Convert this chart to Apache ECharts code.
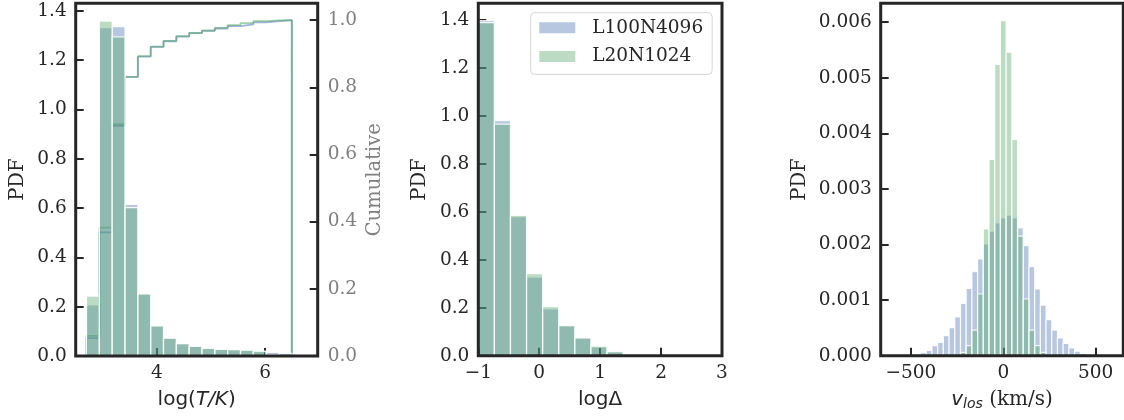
<!DOCTYPE html>
<html>
<head>
<meta charset="utf-8">
<script src="https://cdn.jsdelivr.net/npm/echarts@6/dist/echarts.min.js"></script>
<style>
  html, body { margin: 0; padding: 0; background: #ffffff; }
  #chart { width: 1124px; height: 420px; }
</style>
</head>
<body>
<div id="chart"></div>
<script>
// ---------- DATA ----------
const seriesNames = ['L100N4096', 'L20N1024'];

// Panel 1: log(T/K) histogram (PDF) + cumulative step
const tBinStart = 2.70;
const tBinWidth = 0.237;
const tPdfL100 = [0.207, 1.332, 1.336, 0.615, 0.252, 0.122, 0.072, 0.050, 0.039, 0.031, 0.027, 0.026, 0.023, 0.018, 0.015, 0.011];
const tPdfL20  = [0.243, 1.359, 1.295, 0.602, 0.252, 0.122, 0.072, 0.050, 0.039, 0.031, 0.027, 0.026, 0.024, 0.020, 0.004, 0.002];
const tCumL100 = [0.053, 0.368, 0.685, 0.831, 0.891, 0.920, 0.937, 0.951, 0.961, 0.968, 0.975, 0.982, 0.987, 0.993, 0.997, 1.000];
const tCumL20  = [0.060, 0.382, 0.690, 0.831, 0.893, 0.921, 0.938, 0.952, 0.962, 0.969, 0.977, 0.985, 0.991, 0.997, 0.999, 1.000];

// Panel 2: log Delta histogram
const dBinStart = -1.0;
const dBinWidth = 0.264;
const dPdfL100 = [1.398, 0.980, 0.580, 0.328, 0.195, 0.125, 0.074, 0.036, 0.017];
const dPdfL20  = [1.389, 0.966, 0.585, 0.342, 0.205, 0.125, 0.074, 0.040, 0.017];

// Panel 3: v_los histogram (bins centred on multiples of the bin width, -15..15)
const vBinStart = -479.0;
const vBinWidth = 30.9;
const vPdfL100 = [0.00003, 0.000054, 0.000096, 0.00018, 0.00024, 0.00036, 0.000505, 0.00070, 0.00094, 0.00121, 0.00151,
                  0.00174, 0.00201, 0.00224, 0.00239, 0.00248, 0.00253, 0.00248, 0.00230, 0.00198, 0.00160,
                  0.00120, 0.00091, 0.00065, 0.00046, 0.00032, 0.00022, 0.00014, 0.00008, 0.00004, 0.00001];
const vPdfL20  = [0, 0, 0, 0, 0, 0, 0, 0, 0.00006, 0.00018, 0.00046,
                  0.00111, 0.00228, 0.00353, 0.00524, 0.00603, 0.00546, 0.00389, 0.00215, 0.00102, 0.00046,
                  0.00018, 0.00006, 0.00001, 0, 0, 0, 0, 0, 0, 0];

// Tick values
const tXTicks = [4, 6];
const tYTicks = [0, 0.2, 0.4, 0.6, 0.8, 1.0, 1.2, 1.4];
const tCumTicks = [0, 0.2, 0.4, 0.6, 0.8, 1.0];
const dXTicks = [-1, 0, 1, 2, 3];
const dYTicks = [0, 0.2, 0.4, 0.6, 0.8, 1.0, 1.2, 1.4];
const vXTicks = [-500, 0, 500];
const vYTicks = [0, 0.001, 0.002, 0.003, 0.004, 0.005, 0.006];

// ---------- STYLE ----------
const INK = '#262626';
const GREY = '#808080';
const SERIF = 'DejaVu Serif';
const SANS = 'DejaVu Sans';
const BLUE = 'rgba(76,114,176,0.4)';
const GREEN = 'rgba(85,168,104,0.4)';
const BLUE_LINE = 'rgba(76,114,176,0.55)';
const GREEN_LINE = 'rgba(85,168,104,0.55)';

function binData(start, width, vals) {
  return vals.map((v, i) => [start + i * width, start + (i + 1) * width, v]);
}
function stepData(start, width, vals) {
  const pts = [[start, 0]];
  vals.forEach((v, i) => {
    pts.push([start + i * width, v]);
    pts.push([start + (i + 1) * width, v]);
  });
  pts.push([start + vals.length * width, 0]);
  return pts;
}
function minusFmt(v) { return v < 0 ? '\u2212' + Math.abs(v) : String(v); }

function barSeries(name, xi, yi, data, color) {
  return {
    type: 'custom', name: name, xAxisIndex: xi, yAxisIndex: yi,
    itemStyle: { color: color },
    encode: { x: [0, 1], y: 2 },
    data: data,
    z: 2,
    renderItem: function (params, api) {
      const a = api.coord([api.value(0), api.value(2)]);
      const b = api.coord([api.value(1), 0]);
      return {
        type: 'rect',
        shape: { x: a[0], y: a[1], width: b[0] - a[0], height: b[1] - a[1] },
        style: { fill: color, stroke: 'rgba(255,255,255,0.85)', lineWidth: 1.2 }
      };
    }
  };
}

function tickCfg(vals) {
  return { show: true, inside: true, length: 8, customValues: vals, lineStyle: { color: INK, width: 2 } };
}
function labelCfg(vals, fmt, margin, color) {
  return { show: true, customValues: vals, formatter: fmt, margin: margin,
           fontFamily: SERIF, fontSize: 18.5, color: color || INK };
}
const noLine = { show: false, onZero: false };

const gridBase = { show: true, borderColor: INK, borderWidth: 3, backgroundColor: 'transparent', z: 10 };

const chart = echarts.init(document.getElementById('chart'), null, { renderer: 'canvas' });
chart.setOption({
  animation: false,
  backgroundColor: '#ffffff',
  grid: [
    Object.assign({ left: 75.7, top: 3.3, width: 242, height: 352.7 }, gridBase),
    Object.assign({ left: 478.3, top: 3.3, width: 243.7, height: 352.4 }, gridBase),
    Object.assign({ left: 880.7, top: 3.3, width: 242.6, height: 352.4 }, gridBase)
  ],
  legend: {
    data: seriesNames,
    orient: 'vertical',
    left: 530.7, top: 12.7,
    padding: [5, 9, 8, 8.6],
    itemWidth: 36, itemHeight: 11, itemGap: 8.7,
    icon: 'rect',
    backgroundColor: 'rgba(255,255,255,0.8)',
    borderColor: '#d6d6d6', borderWidth: 1, borderRadius: 4,
    textStyle: { fontFamily: SERIF, fontSize: 18.5, color: INK, lineHeight: 20, padding: [0, 0, 0, 12] }
  },
  xAxis: [
    {
      gridIndex: 0, type: 'value', min: 2.50, max: 6.97,
      axisLine: noLine, splitLine: { show: false },
      axisTick: tickCfg(tXTicks),
      axisLabel: labelCfg(tXTicks, v => String(v), 8),
      name: '{n|log(}{i|T/K}{n|)}', nameLocation: 'middle', nameGap: 34,
      nameTextStyle: { color: INK, fontFamily: SANS, fontSize: 20,
        rich: { n: { fontFamily: SANS, fontSize: 20, color: INK },
                i: { fontFamily: SANS, fontSize: 20, fontStyle: 'italic', color: INK } } }
    },
    {
      gridIndex: 1, type: 'value', min: -1, max: 3,
      axisLine: noLine, splitLine: { show: false },
      axisTick: tickCfg(dXTicks),
      axisLabel: labelCfg(dXTicks, minusFmt, 8),
      name: 'log\u0394', nameLocation: 'middle', nameGap: 34,
      nameTextStyle: { color: INK, fontFamily: SANS, fontSize: 20 }
    },
    {
      gridIndex: 2, type: 'value', min: -664, max: 650,
      axisLine: noLine, splitLine: { show: false },
      axisTick: tickCfg(vXTicks),
      axisLabel: labelCfg(vXTicks, minusFmt, 8),
      name: '{v|v}{s|los}{n| (km/s)}', nameLocation: 'middle', nameGap: 32,
      nameTextStyle: { color: INK, fontFamily: SERIF, fontSize: 20,
        rich: {
          v: { fontFamily: SANS, fontStyle: 'italic', fontSize: 20, lineHeight: 24, color: INK },
          s: { fontFamily: SANS, fontStyle: 'italic', fontSize: 14, lineHeight: 14, verticalAlign: 'bottom', color: INK },
          n: { fontFamily: SERIF, fontSize: 20, lineHeight: 24, color: INK }
        } }
    }
  ],
  yAxis: [
    {
      gridIndex: 0, type: 'value', min: 0, max: 1.431,
      axisLine: noLine, splitLine: { show: false },
      axisTick: tickCfg(tYTicks),
      axisLabel: labelCfg(tYTicks, v => v.toFixed(1), 9),
      name: 'PDF', nameLocation: 'middle', nameGap: 47.5,
      nameTextStyle: { color: INK, fontFamily: SERIF, fontSize: 19.5 }
    },
    {
      gridIndex: 0, type: 'value', position: 'right', min: 0, max: 1.05,
      axisLine: noLine, splitLine: { show: false },
      axisTick: tickCfg(tCumTicks),
      axisLabel: labelCfg(tCumTicks, v => v.toFixed(1), 10, GREY),
      name: 'Cumulative', nameLocation: 'middle', nameGap: 47,
      nameTextStyle: { color: GREY, fontFamily: SERIF, fontSize: 19.5 }
    },
    {
      gridIndex: 1, type: 'value', min: 0, max: 1.47,
      axisLine: noLine, splitLine: { show: false },
      axisTick: tickCfg(dYTicks),
      axisLabel: labelCfg(dYTicks, v => v.toFixed(1), 9),
      name: 'PDF', nameLocation: 'middle', nameGap: 48,
      nameTextStyle: { color: INK, fontFamily: SERIF, fontSize: 19.5 }
    },
    {
      gridIndex: 2, type: 'value', min: 0, max: 0.00634,
      axisLine: noLine, splitLine: { show: false },
      axisTick: tickCfg(vYTicks),
      axisLabel: labelCfg(vYTicks, v => v.toFixed(3), 9),
      name: 'PDF', nameLocation: 'middle', nameGap: 71,
      nameTextStyle: { color: INK, fontFamily: SERIF, fontSize: 19.5 }
    }
  ],
  series: [
    {
      type: 'line', name: 'cumL100', xAxisIndex: 0, yAxisIndex: 1,
      data: stepData(tBinStart, tBinWidth, tCumL100),
      symbol: 'none', showSymbol: false, z: 1,
      lineStyle: { color: BLUE_LINE, width: 1.8 }
    },
    {
      type: 'line', name: 'cumL20', xAxisIndex: 0, yAxisIndex: 1,
      data: stepData(tBinStart, tBinWidth, tCumL20),
      symbol: 'none', showSymbol: false, z: 1,
      lineStyle: { color: GREEN_LINE, width: 1.8 }
    },
    barSeries(seriesNames[0], 0, 0, binData(tBinStart, tBinWidth, tPdfL100), BLUE),
    barSeries(seriesNames[1], 0, 0, binData(tBinStart, tBinWidth, tPdfL20), GREEN),
    barSeries(seriesNames[0], 1, 2, binData(dBinStart, dBinWidth, dPdfL100), BLUE),
    barSeries(seriesNames[1], 1, 2, binData(dBinStart, dBinWidth, dPdfL20), GREEN),
    barSeries(seriesNames[0], 2, 3, binData(vBinStart, vBinWidth, vPdfL100), BLUE),
    barSeries(seriesNames[1], 2, 3, binData(vBinStart, vBinWidth, vPdfL20), GREEN)
  ]
});
</script>
</body>
</html>
